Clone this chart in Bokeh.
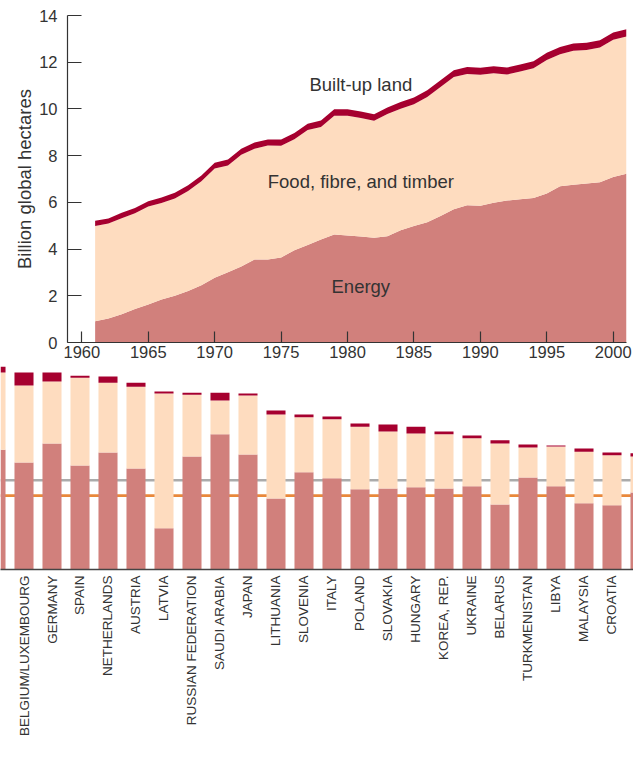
import math
from bokeh.plotting import figure
from bokeh.models import ColumnDataSource, FixedTicker, Label, Span, Range1d
from bokeh.embed import file_html
from bokeh.resources import INLINE

# ---------------- data: world footprint by component (billion gha) ----------------
years = list(range(1961, 2002))
energy = [0.91, 1.03, 1.21, 1.43, 1.63, 1.84, 2.00, 2.21, 2.45, 2.77,
          3.01, 3.25, 3.55, 3.55, 3.64, 3.95, 4.17, 4.41, 4.62, 4.58,
          4.54, 4.48, 4.55, 4.81, 4.99, 5.15, 5.42, 5.71, 5.88, 5.86,
          5.98, 6.08, 6.13, 6.19, 6.38, 6.69, 6.75, 6.81, 6.86, 7.09, 7.23]
food = [4.08, 4.06, 4.11, 4.10, 4.19, 4.13, 4.17, 4.28, 4.45, 4.68,
        4.57, 4.79, 4.75, 4.88, 4.78, 4.75, 4.93, 4.82, 5.09, 5.13,
        5.07, 5.01, 5.23, 5.20, 5.21, 5.36, 5.52, 5.66, 5.62, 5.60,
        5.55, 5.39, 5.47, 5.55, 5.72, 5.65, 5.74, 5.71, 5.77, 5.87, 5.87]
built = [0.22, 0.22, 0.23, 0.23, 0.23, 0.24, 0.24, 0.24, 0.25, 0.25,
         0.25, 0.26, 0.26, 0.26, 0.27, 0.27, 0.27, 0.27, 0.28, 0.28,
         0.28, 0.28, 0.28, 0.29, 0.29, 0.29, 0.29, 0.29, 0.30, 0.30,
         0.30, 0.30, 0.30, 0.30, 0.30, 0.31, 0.31, 0.31, 0.31, 0.31, 0.31]
year_ticks = [1960, 1965, 1970, 1975, 1980, 1985, 1990, 1995, 2000]
value_ticks = [0, 2, 4, 6, 8, 10, 12, 14]
area_labels = ["Built-up land", "Food, fibre, and timber", "Energy"]

# ---------------- data: footprint per person by country (gha/person) ----------------
countries = ["GREECE", "BELGIUM/LUXEMBOURG", "GERMANY", "SPAIN", "NETHERLANDS",
             "AUSTRIA", "LATVIA", "RUSSIAN FEDERATION", "SAUDI ARABIA", "JAPAN",
             "LITHUANIA", "SLOVENIA", "ITALY", "POLAND", "SLOVAKIA", "HUNGARY",
             "KOREA, REP.", "UKRAINE", "BELARUS", "TURKMENISTAN", "LIBYA",
             "MALAYSIA", "CROATIA", "KAZAKHSTAN"]
c_energy = [2.97, 2.65, 3.12, 2.58, 2.90, 2.50, 1.02, 2.80, 3.35, 2.85, 1.76, 2.41,
            2.26, 1.99, 2.01, 2.04, 2.01, 2.06, 1.61, 2.28, 2.06, 1.64, 1.59, 1.91]
c_food = [1.91, 1.91, 1.54, 2.17, 1.73, 2.03, 3.34, 1.53, 0.84, 1.46, 2.08, 1.36,
          1.46, 1.55, 1.41, 1.33, 1.34, 1.19, 1.51, 0.74, 0.99, 1.28, 1.24, 0.89]
c_built = [0.15, 0.32, 0.22, 0.05, 0.15, 0.10, 0.05, 0.05, 0.19, 0.05, 0.10, 0.07,
           0.07, 0.08, 0.17, 0.17, 0.07, 0.07, 0.08, 0.08, 0.02, 0.08, 0.07, 0.08]
ref_levels = [2.21, 1.83]   # world average footprint, world biocapacity

FONT = "Liberation Sans"
TXT = "#333333"
C_EN = "#D1807C"
C_FOOD = "#FEDCBF"
C_BUILT = "#A6002F"
REF_COLORS = ["#ABABAB", "#E9883B"]

# ---------------- top chart ----------------
src1 = ColumnDataSource(dict(year=years, energy=energy, food=food, built=built))
p1 = figure(width=633, height=366, x_range=Range1d(1958.92, 2001.0),
            y_range=Range1d(0, 14), output_backend="svg", toolbar_location=None,
            min_border_left=67, min_border_right=7, min_border_top=15,
            min_border_bottom=24)
p1.varea_stack(["energy", "food", "built"], x="year", color=[C_EN, C_FOOD, C_BUILT],
               source=src1)
p1.xgrid.visible = False
p1.ygrid.visible = False
p1.outline_line_color = None
p1.background_fill_color = "white"
p1.border_fill_color = "white"

p1.xaxis.ticker = FixedTicker(ticks=year_ticks)
p1.yaxis.ticker = FixedTicker(ticks=value_ticks)
for ax in (p1.xaxis[0], p1.yaxis[0]):
    ax.major_tick_out = 0
    ax.minor_tick_in = 0
    ax.minor_tick_out = 0
    ax.axis_line_color = TXT
    ax.major_tick_line_color = TXT
    ax.axis_line_width = 1.2
    ax.major_tick_line_width = 1.2
    ax.major_label_text_font = FONT
    ax.major_label_text_font_size = "16.5px"
    ax.major_label_text_color = TXT
p1.xaxis.major_tick_in = 11
p1.yaxis.major_tick_in = 14
p1.xaxis.major_label_standoff = 3
p1.yaxis.major_label_standoff = 10
p1.yaxis.axis_label = "Billion global hectares"
p1.yaxis.axis_label_text_font = FONT
p1.yaxis.axis_label_text_font_size = "18.5px"
p1.yaxis.axis_label_text_font_style = "normal"
p1.yaxis.axis_label_text_color = TXT
p1.yaxis.axis_label_standoff = 1

for txt, yv in zip(area_labels, [11.06, 6.9, 2.41]):
    p1.add_layout(Label(x=1981.0, y=yv, text=txt, text_align="center",
                        text_baseline="middle", text_font=FONT,
                        text_font_size="18.5px", text_color=TXT))

# ---------------- bottom chart ----------------
xs = list(range(-1, len(countries) - 1))
src2 = ColumnDataSource(dict(x=xs, name=countries, energy=c_energy, food=c_food,
                             built=c_built))
p2 = figure(width=633, height=383, x_range=Range1d(-0.8393, 21.768),
            y_range=Range1d(0, 5.03), y_axis_location=None,
            output_backend="svg", toolbar_location=None,
            min_border_left=0, min_border_right=0, min_border_top=0,
            min_border_bottom=180)
for lvl, col in zip(ref_levels, REF_COLORS):
    p2.add_layout(Span(location=lvl, dimension="width", line_color=col,
                       line_width=2.6, level="underlay"))
p2.vbar_stack(["energy", "food", "built"], x="x", width=0.68,
              color=[C_EN, C_FOOD, C_BUILT], line_color=None, source=src2)
p2.xgrid.visible = False
p2.ygrid.visible = False
p2.outline_line_color = None
p2.background_fill_color = "white"
p2.border_fill_color = "white"
ax2 = p2.xaxis[0]
ax2.ticker = FixedTicker(ticks=xs)
ax2.major_label_overrides = {x: n for x, n in zip(xs, countries)}
ax2.major_label_orientation = math.pi / 2
ax2.major_tick_in = 0
ax2.major_tick_out = 0
ax2.minor_tick_in = 0
ax2.minor_tick_out = 0
ax2.axis_line_color = "#444444"
ax2.axis_line_width = 1.5
ax2.major_label_standoff = 6
ax2.major_label_text_font = FONT
ax2.major_label_text_font_size = "13.5px"
ax2.major_label_text_color = TXT

open("out.html", "w").write(file_html([p1, p2], INLINE))
